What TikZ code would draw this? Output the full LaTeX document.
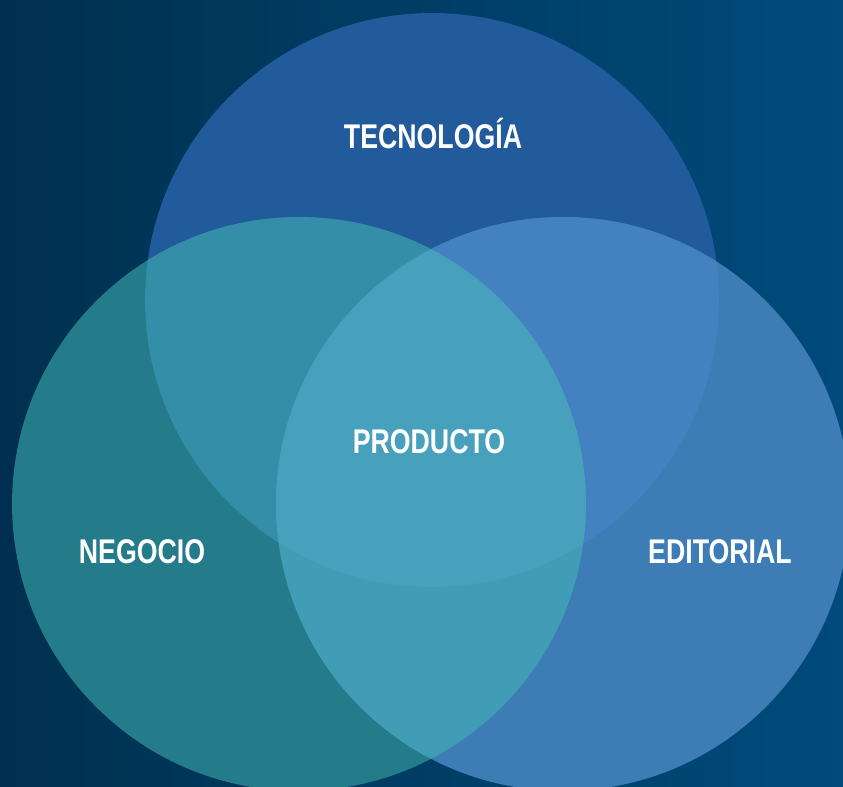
\documentclass[tikz,border=0pt]{standalone}
\usepackage{fontspec}
\setmainfont{Liberation Sans}
\newfontfamily\condfont[FakeStretch=0.78]{Liberation Sans}
\usetikzlibrary{positioning}

\definecolor{bgleft}{HTML}{00304F}
\definecolor{bgright}{HTML}{004B7C}
\definecolor{tecfill}{HTML}{225B9B}
\definecolor{negfill}{HTML}{247C8A}
\definecolor{edifill}{HTML}{3D7CB5}
\definecolor{tecneg}{HTML}{358EA8}
\definecolor{tecedi}{HTML}{4381C0}
\definecolor{negedi}{HTML}{409DB5}
\definecolor{allthree}{HTML}{47A1BC}

\begin{document}
\begin{tikzpicture}[
    x=0.02cm, y=-0.02cm,
    labelstyle/.style={
        text=white,
        font=\condfont\bfseries\fontsize{19.5}{21}\selectfont,
        inner sep=0pt
    }
]

% Geometry parameters
\def\r{5.74cm}   % circle radius

% Background
\shade[left color=bgleft, right color=bgright] (0,0) rectangle (843,787);
\useasboundingbox (0,0) rectangle (843,787);

\coordinate (tec) at (432,300);
\coordinate (neg) at (299,504);
\coordinate (edi) at (563,504);

% Plain circles
\fill[tecfill] (tec) circle[radius=\r];
\fill[negfill] (neg) circle[radius=\r];
\fill[edifill] (edi) circle[radius=\r];

% Pairwise overlaps
\begin{scope}
  \clip (tec) circle[radius=\r];
  \fill[tecneg] (neg) circle[radius=\r];
  \fill[tecedi] (edi) circle[radius=\r];
\end{scope}
\begin{scope}
  \clip (neg) circle[radius=\r];
  \fill[negedi] (edi) circle[radius=\r];
  % Centre where all three meet
  \clip (edi) circle[radius=\r];
  \fill[allthree] (tec) circle[radius=\r];
\end{scope}

% Labels
\node[labelstyle] (tecnologia) at (433,133) {TECNOLOGÍA};
\node[labelstyle] (producto) at (429,442) {PRODUCTO};
\node[labelstyle] (negocio) at (142,552) {NEGOCIO};
\node[labelstyle] (editorial) at (720,552) {EDITORIAL};

\end{tikzpicture}
\end{document}
